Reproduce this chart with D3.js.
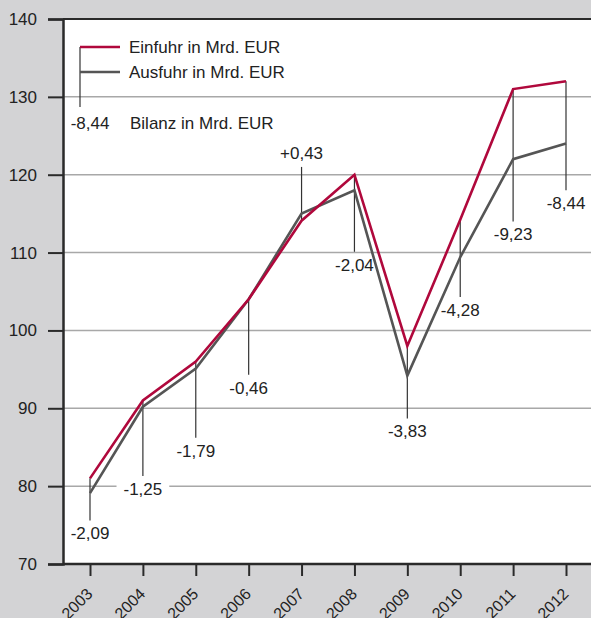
<!DOCTYPE html>
<html><head><meta charset="utf-8">
<script src="https://cdn.jsdelivr.net/npm/d3@7"></script>
<style>
html,body{margin:0;padding:0;background:#d3d3d5;}
svg{display:block;font-family:"Liberation Sans",Arial,sans-serif;}
</style></head>
<body><svg id="c" width="591" height="618"></svg>
<script>
const years = [2003,2004,2005,2006,2007,2008,2009,2010,2011,2012];
const einfuhr = [81.0,91.0,96.0,104.0,114.1,120.0,98.0,114.2,131.0,132.0];
const ausfuhr = [79.1,90.2,95.1,104.0,115.0,118.0,94.2,109.4,122.0,124.0];
const bilanzLabels = ["-2,09","-1,25","-1,79","-0,46","+0,43","-2,04","-3,83","-4,28","-9,23","-8,44"];
// end of connector line (in value units)
const connectorEnd = [75.6,81.3,86.2,94.3,121.0,110.1,88.7,104.3,114.0,118.0];
const yTicks = [70,80,90,100,110,120,130,140];
const legendLabels = ["Einfuhr in Mrd. EUR","Ausfuhr in Mrd. EUR","Bilanz in Mrd. EUR"];
const legendSample = "-8,44";

(function(){
const mLeft=63, mTop=19, mBottom=564, mRight=591;
const red="#b0083c", grey="#555555", ink="#222222";
const svg=d3.select("#c");
const x=d3.scalePoint().domain(years).range([90,566]);
const y=d3.scaleLinear().domain([70,140]).range([mBottom,mTop]);

svg.append("defs").append("clipPath").attr("id","plotclip").append("rect")
  .attr("x",mLeft+2).attr("y",mTop+1).attr("width",mRight-mLeft).attr("height",mBottom-mTop-2);

svg.append("rect").attr("x",mLeft).attr("y",mTop).attr("width",mRight-mLeft).attr("height",mBottom-mTop).attr("fill","#fff");

// gridlines
svg.append("g").selectAll("line").data(yTicks.filter(d=>d>70&&d<140)).join("line")
  .attr("x1",mLeft).attr("x2",mRight).attr("y1",d=>y(d)).attr("y2",d=>y(d))
  .attr("stroke","#a8a8a8").attr("stroke-width",1.5);

const bgLayer=svg.append("g").attr("clip-path","url(#plotclip)");
const conn=svg.append("g");
const linesLayer=svg.append("g");
const lab=svg.append("g");

// top border
svg.append("line").attr("x1",mLeft).attr("x2",mRight).attr("y1",mTop).attr("y2",mTop)
  .attr("stroke","#2a2a2a").attr("stroke-width",2);

// y axis
const ya=svg.append("g").attr("transform",`translate(${mLeft},0)`)
  .call(d3.axisLeft(y).tickValues(yTicks).tickSize(15).tickPadding(11).tickFormat(d3.format("d")));
ya.select(".domain").attr("stroke","#2a2a2a").attr("stroke-width",2.5);
ya.selectAll(".tick line").attr("stroke","#2a2a2a").attr("stroke-width",2);
ya.selectAll(".tick text").attr("font-size",17).attr("fill",ink).attr("font-family","Liberation Sans, Arial, sans-serif");

// x axis
const xa=svg.append("g").attr("transform",`translate(0,${mBottom})`)
  .call(d3.axisBottom(x).tickSize(12).tickSizeOuter(0).tickFormat(d=>d));
xa.select(".domain").attr("stroke","#2a2a2a").attr("stroke-width",2.5).attr("d",`M${mLeft},0H${mRight}`);
xa.selectAll(".tick line").attr("stroke","#2a2a2a").attr("stroke-width",2);
xa.selectAll(".tick text").attr("font-size",16).attr("fill",ink).attr("font-family","Liberation Sans, Arial, sans-serif")
  .attr("text-anchor","end").attr("y",0).attr("dy",0)
  .attr("transform","translate(3,31) rotate(-45)");

// connectors
years.forEach((yr,i)=>{
  const hi=Math.max(einfuhr[i],ausfuhr[i]), lo=Math.min(einfuhr[i],ausfuhr[i]);
  const end=connectorEnd[i];
  const y1 = end<lo ? y(hi) : y(lo);
  conn.append("line").attr("x1",x(yr)).attr("x2",x(yr)).attr("y1",y1).attr("y2",y(end))
    .attr("stroke","#333").attr("stroke-width",1.2);
});

// lines
const line=d3.line().x((d,i)=>x(years[i])).y(d=>y(d));
linesLayer.append("path").datum(ausfuhr).attr("d",line).attr("fill","none").attr("stroke",grey).attr("stroke-width",2.6);
linesLayer.append("path").datum(einfuhr).attr("d",line).attr("fill","none").attr("stroke",red).attr("stroke-width",2.6);

// labels (white background only masks gridlines)
years.forEach((yr,i)=>{
  const end=connectorEnd[i];
  const below = end < Math.min(einfuhr[i],ausfuhr[i]);
  const cy = y(end) + (below?13:-14);
  const t=lab.append("text").attr("x",x(yr)).attr("y",cy).attr("dy","0.35em").attr("text-anchor","middle")
    .attr("font-size",17).attr("fill",ink).text(bilanzLabels[i]);
  const bb=t.node().getBBox();
  bgLayer.append("rect").attr("x",bb.x-7).attr("y",bb.y).attr("width",bb.width+14).attr("height",bb.height).attr("fill","#fff");
});

// legend
const lg=svg.append("g");
lg.append("line").attr("x1",80).attr("x2",80).attr("y1",47).attr("y2",107).attr("stroke","#333").attr("stroke-width",1.2);
lg.append("line").attr("x1",80).attr("x2",120).attr("y1",47).attr("y2",47).attr("stroke",red).attr("stroke-width",2.6);
lg.append("line").attr("x1",80).attr("x2",120).attr("y1",72).attr("y2",72).attr("stroke",grey).attr("stroke-width",2.6);
lg.append("text").attr("x",129).attr("y",47).attr("dy","0.35em").attr("font-size",17).attr("fill",ink).text(legendLabels[0]);
lg.append("text").attr("x",129).attr("y",72).attr("dy","0.35em").attr("font-size",17).attr("fill",ink).text(legendLabels[1]);
lg.append("text").attr("x",90).attr("y",123).attr("dy","0.35em").attr("text-anchor","middle").attr("font-size",17).attr("fill",ink).text(legendSample);
lg.append("text").attr("x",130).attr("y",123).attr("dy","0.35em").attr("font-size",17).attr("fill",ink).text(legendLabels[2]);
})();
</script></body></html>
